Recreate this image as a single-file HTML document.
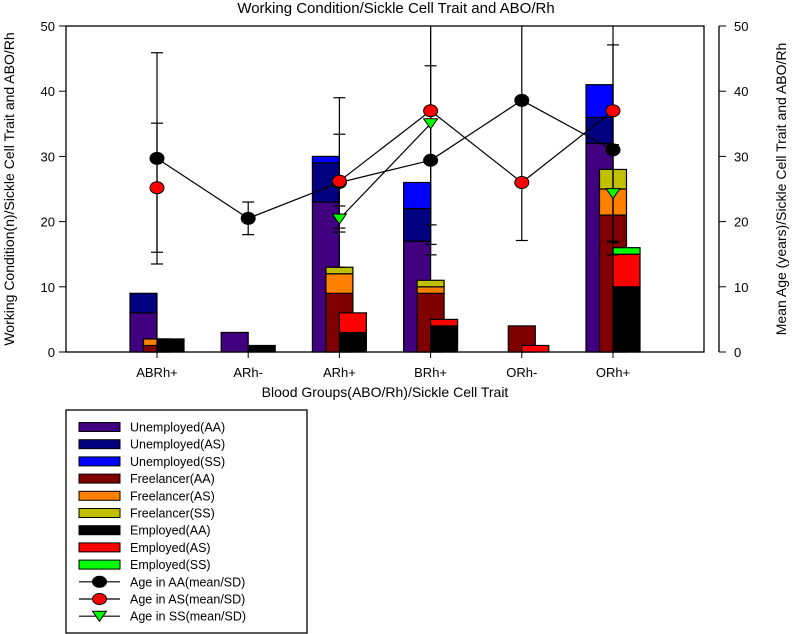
<!DOCTYPE html>
<html><head><meta charset="utf-8"><style>
body{margin:0;background:#fff;}
svg{display:block;font-family:"Liberation Sans",Arial,sans-serif;}
</style></head><body>
<svg id="chart" width="793" height="634" viewBox="0 0 793 634">
<text x="396" y="13" text-anchor="middle" font-size="15">Working Condition/Sickle Cell Trait and ABO/Rh</text>
<g id="plot"></g>
<text transform="translate(14,189) rotate(-90)" text-anchor="middle" font-size="14">Working Condition(n)/Sickle Cell Trait and ABO/Rh</text>
<text transform="translate(786,189) rotate(-90)" text-anchor="middle" font-size="14">Mean Age (years)/Sickle Cell Trait and ABO/Rh</text>
<text x="385" y="397" text-anchor="middle" font-size="14">Blood Groups(ABO/Rh)/Sickle Cell Trait</text>
<g id="legend"></g>
</svg>
<script>
const categories=["ABRh+","ARh-","ARh+","BRh+","ORh-","ORh+"];
const unempAA=[6,3,23,17,0,32];
const unempAS=[3,0,6,5,0,4];
const unempSS=[0,0,1,4,0,5];
const freeAA=[1,0,9,9,4,21];
const freeAS=[1,0,3,1,0,4];
const freeSS=[0,0,1,1,0,3];
const empAA=[2,1,3,4,0,10];
const empAS=[0,0,3,1,1,5];
const empSS=[0,0,0,0,0,1];
const ageAA=[29.7,20.5,26,29.4,38.6,31];
const sdAA=[16.2,2.5,13,14.5,21.5,16.1];
const ageAS=[25.2,null,26.2,37,26,37];
const sdAS=[9.9,null,7.2,20.5,0,20];
const ageSS=[null,null,20.4,35,null,24.3];
const sdSS=[null,null,2,15.5,null,7.5];
const yTicks=[0,10,20,30,40,50];

const NS="http://www.w3.org/2000/svg";
const plot=document.getElementById('plot');
const L=66,R=704,T=26,B=352;
const y=v=>B-(v/50)*(B-T);
const xc=i=>157+91.2*i;
function mk(tag,at,parent){const e=document.createElementNS(NS,tag);for(const k in at)e.setAttribute(k,at[k]);(parent||plot).appendChild(e);return e;}

const frame=mk('rect',{x:L,y:T,width:R-L,height:B-T,fill:'none',stroke:'#000','stroke-width':1.3});


const ra=mk('line',{x1:719,y1:T,x2:719,y2:B,stroke:'#000','stroke-width':1.3});


yTicks.forEach(t=>{
  mk('line',{x1:59,x2:L,y1:y(t),y2:y(t),stroke:'#000'});
  const lt=mk('text',{x:55,y:y(t)+5,'text-anchor':'end','font-size':13});lt.textContent=t;
  
  
  mk('line',{x1:719,x2:726,y1:y(t),y2:y(t),stroke:'#000'});
  const rt=mk('text',{x:734,y:y(t)+5,'font-size':13});rt.textContent=t;
  
  
});
categories.forEach((c,i)=>{
  mk('line',{x1:xc(i),x2:xc(i),y1:B,y2:B+6,stroke:'#000'});
  const t=mk('text',{x:xc(i),y:377,'text-anchor':'middle','font-size':13});t.textContent=c;
  
  
});

const groups=[
 {off:-27,series:[[unempAA,'#400080','unemployed-aa'],[unempAS,'#000080','unemployed-as'],[unempSS,'#0000ff','unemployed-ss']]},
 {off:-13.5,series:[[freeAA,'#800000','freelancer-aa'],[freeAS,'#ff8000','freelancer-as'],[freeSS,'#c0c000','freelancer-ss']]},
 {off:0,series:[[empAA,'#000000','employed-aa'],[empAS,'#ff0000','employed-as'],[empSS,'#00ff00','employed-ss']]}
];
groups.forEach(g=>{
  categories.forEach((c,i)=>{
    let base=0;
    g.series.forEach(([arr,col,nm])=>{
      const v=arr[i];
      if(v>0){
        const r=mk('rect',{x:xc(i)+g.off,y:y(base+v),width:27,height:y(base)-y(base+v),fill:col,stroke:'#000','stroke-width':1.2});
        
        
      }
      base+=v;
    });
  });
});

const ages=[[ageAA,sdAA,'#000','circle','age-aa'],[ageAS,sdAS,'#f00','circle','age-as'],[ageSS,sdSS,'#0f0','tri','age-ss']];
const clip=v=>Math.max(0,Math.min(50,v));
ages.forEach(([m,s,col,shape,nm])=>{
  for(let i=0;i<m.length-1;i++){
    if(m[i]==null||m[i+1]==null)continue;
    const ln=mk('line',{x1:xc(i),y1:y(m[i]),x2:xc(i+1),y2:y(m[i+1]),stroke:'#000','stroke-width':1.2});
    
    
  }
  m.forEach((v,i)=>{
    if(v==null||!s[i])return;
    const hi=v+s[i],lo=v-s[i];
    mk('line',{x1:xc(i),x2:xc(i),y1:y(clip(hi)),y2:y(clip(lo)),stroke:'#000','stroke-width':1.2});
    if(hi<=50)mk('line',{x1:xc(i)-6,x2:xc(i)+6,y1:y(hi),y2:y(hi),stroke:'#000','stroke-width':1.2});
    if(lo>=0)mk('line',{x1:xc(i)-6,x2:xc(i)+6,y1:y(lo),y2:y(lo),stroke:'#000','stroke-width':1.2});
  });
});
ages.forEach(([m,s,col,shape,nm])=>{
  m.forEach((v,i)=>{
    if(v==null)return;
    const cx=xc(i),cy=y(v);let e;
    if(shape==='circle')e=mk('ellipse',{cx:cx,cy:cy,rx:7,ry:6,fill:col,stroke:'#000','stroke-width':1});
    else e=mk('polygon',{points:`${cx-7},${cy-5} ${cx+7},${cy-5} ${cx},${cy+5}`,fill:col,stroke:'#000','stroke-width':1});
    
    
  });
});

const lg=document.getElementById('legend');
mk('rect',{x:66,y:410,width:241,height:223,fill:'#fff',stroke:'#000','stroke-width':1.3},lg);
const items=[['Unemployed(AA)','#400080','bar'],['Unemployed(AS)','#000080','bar'],['Unemployed(SS)','#0000ff','bar'],
['Freelancer(AA)','#800000','bar'],['Freelancer(AS)','#ff8000','bar'],['Freelancer(SS)','#c0c000','bar'],
['Employed(AA)','#000000','bar'],['Employed(AS)','#ff0000','bar'],['Employed(SS)','#00ff00','bar'],
['Age in AA(mean/SD)','#000','circle'],['Age in AS(mean/SD)','#f00','circle'],['Age in SS(mean/SD)','#0f0','tri']];
items.forEach(([lab,col,k],j)=>{
  const cy=427+17.2*j;
  const g=mk('g',{},lg);
  
  
  if(k==='bar')mk('rect',{x:79,y:cy-4.5,width:41,height:9,fill:col,stroke:'#000','stroke-width':1},g);
  else{
    mk('line',{x1:79,x2:120,y1:cy,y2:cy,stroke:'#000','stroke-width':1.2},g);
    if(k==='circle')mk('ellipse',{cx:99.5,cy:cy,rx:7,ry:5.5,fill:col,stroke:'#000'},g);
    else mk('polygon',{points:`${92.5},${cy-5} ${106.5},${cy-5} ${99.5},${cy+5}`,fill:col,stroke:'#000'},g);
  }
  const t=mk('text',{x:130,y:cy+4.5,'font-size':12.5},g);t.textContent=lab;
});
</script>
</body></html>
